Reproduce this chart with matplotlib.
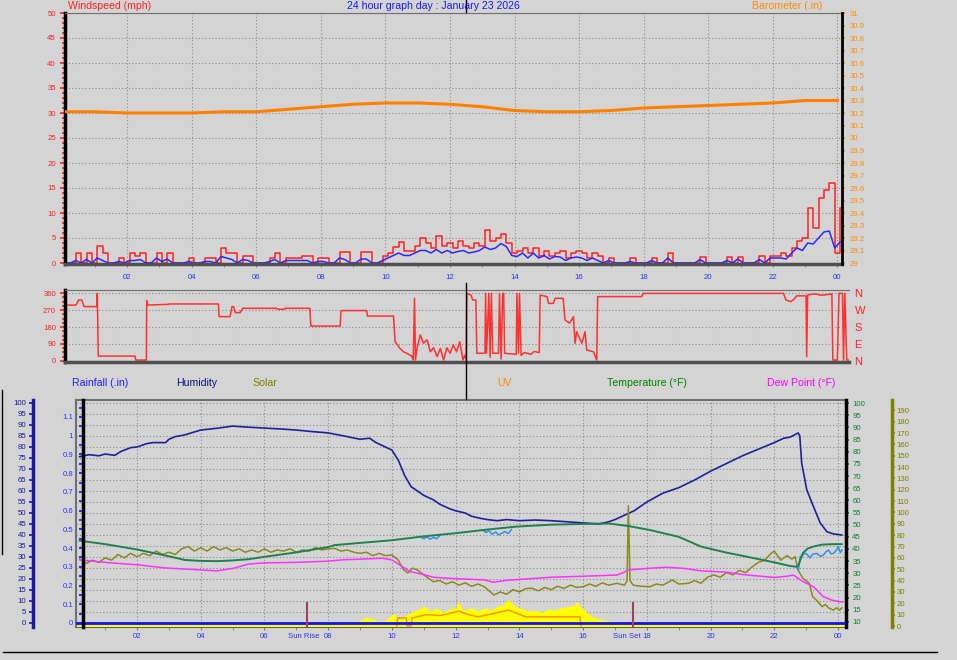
import matplotlib

matplotlib.use("Agg")
import matplotlib.pyplot as plt
import numpy as np
from matplotlib.lines import Line2D
from matplotlib.ticker import FuncFormatter, MultipleLocator

plt.rcParams["font.family"] = ["Liberation Sans", "DejaVu Sans"]

# ---------------------------------------------------------------- data
hour_ticks = [2, 4, 6, 8, 10, 12, 14, 16, 18, 20, 22, 24]
hour_labels = ["02", "04", "06", "08", "10", "12", "14", "16", "18", "20", "22", "00"]

# wind gust / average (mph), one reading every 10 minutes from just after midnight
gust_mph = [
    0, 0, 2, 0, 2, 0,        # 00
    3.5, 2, 0, 0, 1, 0,      # 01
    2, 1.5, 2, 0, 0, 2,      # 02
    0, 2, 0, 0, 0, 1,        # 03
    0, 0, 1, 1, 0, 3,        # 04
    2, 2, 0, 1.5, 1.5, 0,    # 05
    0, 0, 1, 2, 0, 1,        # 06
    1, 1, 1.5, 1.5, 0, 1,    # 07
    1, 0, 0, 2.3, 2.3, 0,    # 08
    0, 2.2, 2.2, 0, 0, 1.5,  # 09
    2, 3.2, 4.3, 2.5, 2.5, 3.5,  # 10
    5, 4, 3, 5.5, 3.5, 4,    # 11
    3, 4.5, 3.5, 3, 4, 3.5,  # 12
    6.7, 4.5, 5, 5.9, 4, 2,  # 13
    2.5, 3, 2, 3, 1.5, 2.5,  # 14
    1.5, 2, 2.5, 1, 2, 2.5,  # 15
    2, 1, 2, 1.5, 0, 1,      # 16
    0, 0, 0, 1, 0, 0,        # 17
    0, 1, 0, 0, 2, 0,        # 18
    0, 0, 0, 0, 1.3, 0,      # 19
    0, 0, 0, 1.2, 0, 1.3,    # 20
    0, 0, 0, 1.5, 0, 1.5,    # 21
    1.5, 2, 1.5, 3, 4.5, 5,  # 22
    11, 7, 13, 14.6, 16, 2,  # 23
    11, 11,
]
avg_mph = [
    0, 0, 0.5, 0, 0.7, 0,
    1, 0.5, 0, 0, 0.3, 0,
    0.5, 0.5, 0.7, 0, 0, 1,
    0.3, 0.8, 0, 0, 0, 0.3,
    0, 0, 0.3, 0.3, 0, 1.3,
    1, 0.7, 0, 0.7, 0.5, 0,
    0, 0, 0.3, 0.7, 0, 0.5,
    0.5, 0.5, 0.5, 0.5, 0, 0.3,
    0.3, 0, 0, 1, 0.7, 0,
    0, 0.8, 0.8, 0, 0, 0.5,
    1, 1.5, 2, 1.5, 1.5, 2,
    2.5, 2.5, 2, 2.7, 2, 2.5,
    2, 2.3, 2.5, 2, 2.2, 2.5,
    3.2, 2.7, 3, 3.9, 3.3, 1.5,
    1.3, 2, 1, 2, 1, 1.5,
    0.8, 1.3, 1.2, 0.5, 1, 1.2,
    1, 0.5, 1, 0.5, 0, 0.5,
    0, 0, 0, 0.3, 0, 0,
    0, 0.5, 0, 0, 1, 0,
    0, 0, 0, 0, 0.7, 0,
    0, 0, 0, 0.5, 0, 0.8,
    0, 0, 0, 0.7, 0, 1,
    1, 1, 0.8, 2, 3, 2.5,
    4, 3.8, 5, 6.2, 6.4, 3,
    4.2, 4.2,
]

baro_hours = list(range(25))
baro_in = [30.21, 30.21, 30.20, 30.20, 30.20, 30.21, 30.21, 30.23, 30.25, 30.27,
           30.28, 30.28, 30.27, 30.25, 30.22, 30.21, 30.21, 30.22, 30.24, 30.25,
           30.26, 30.27, 30.28, 30.30, 30.30]

# wind direction (hour, degrees)
wind_dir = [
    (0.08, 296), (0.42, 296), (0.5, 323), (0.6, 323), (0.67, 288), (1.06, 288),
    (1.08, 358), (1.11, 26), (2.25, 26), (2.27, 5), (2.6, 5), (2.61, 320),
    (2.63, 296), (3.28, 300), (3.3, 302), (4.83, 302), (4.85, 235), (5.19, 235),
    (5.25, 288), (5.3, 288), (5.35, 256), (5.5, 256), (5.58, 279), (6.6, 279),
    (6.7, 274), (6.85, 274), (6.9, 279), (7.66, 279), (7.69, 185), (8.6, 185),
    (8.62, 261), (8.65, 267), (9.42, 267), (9.44, 238), (10.25, 238), (10.3, 102),
    (10.45, 67), (10.56, 49), (10.66, 41), (10.81, 26), (10.86, 5), (10.9, 332),
    (10.93, 5), (10.98, 70), (11.08, 138), (11.18, 94), (11.29, 112), (11.39, 49),
    (11.49, 70), (11.6, 23), (11.7, 67), (11.8, 5), (11.9, 70), (12.0, 41),
    (12.1, 85), (12.2, 49), (12.3, 102), (12.4, 5), (12.45, 30), (12.5, 5),
    (12.52, 358), (12.65, 349), (12.7, 323), (12.8, 323), (12.83, 41), (13.08, 41),
    (13.1, 358), (13.13, 41), (13.2, 358), (13.24, 20), (13.28, 358), (13.32, 41),
    (13.5, 41), (13.53, 358), (13.58, 10), (13.63, 358), (13.66, 358), (13.69, 41),
    (14.05, 35), (14.07, 358), (14.12, 41), (14.15, 358), (14.2, 30), (14.3, 45),
    (14.5, 35), (14.6, 50), (14.76, 45), (14.79, 349), (15.0, 341), (15.05, 305),
    (15.2, 305), (15.25, 332), (15.5, 332), (15.56, 217), (15.7, 200), (15.82, 235),
    (15.87, 94), (15.92, 155), (16.08, 94), (16.18, 155), (16.23, 58), (16.44, 49),
    (16.54, 5), (16.57, 341), (17.93, 341), (17.98, 358), (22.32, 358), (22.4, 323),
    (22.55, 314), (22.65, 327), (22.73, 345), (23.02, 345), (23.04, 23), (23.07, 350),
    (23.3, 355), (23.5, 348), (23.82, 355), (23.85, 5), (23.99, 5), (24.04, 358),
    (24.15, 358), (24.18, 5), (24.22, 358), (24.28, 5), (24.33, 5),
]

# humidity (hour, %)
humidity = [
    (0.2, 75.6), (0.5, 76.5), (0.8, 76.0), (1.0, 76.8), (1.3, 76.2), (1.5, 78.0),
    (1.8, 79.7), (2.0, 80.0), (2.3, 81.5), (2.5, 82.0), (2.9, 82.0), (3.0, 83.5),
    (3.2, 84.7), (3.5, 85.5), (3.7, 86.4), (4.0, 87.7), (4.5, 88.5), (5.0, 89.5),
    (5.5, 89.0), (6.0, 88.6), (6.5, 88.2), (7.0, 87.7), (7.5, 87.0), (8.0, 86.4),
    (8.5, 85.0), (9.0, 83.5), (9.3, 84.0), (9.5, 82.0), (10.0, 78.6), (10.2, 74.0),
    (10.4, 67.0), (10.6, 62.0), (10.8, 60.0), (11.0, 58.0), (11.3, 56.0), (11.5, 54.0),
    (11.8, 52.0), (12.0, 51.0), (12.3, 50.0), (12.5, 48.5), (12.8, 47.5), (13.0, 47.0),
    (13.3, 46.5), (13.6, 47.0), (14.0, 46.5), (14.5, 46.8), (15.0, 46.5), (15.5, 46.0),
    (16.0, 45.5), (16.5, 45.0), (16.8, 46.0), (17.0, 47.0), (17.3, 49.0), (17.6, 51.0),
    (18.0, 55.0), (18.5, 59.0), (19.0, 61.5), (19.5, 65.0), (20.0, 69.0), (20.5, 72.5),
    (21.0, 76.0), (21.5, 79.0), (22.0, 82.0), (22.3, 84.0), (22.5, 84.5), (22.75, 86.4),
    (22.8, 85.0), (22.86, 72.6), (23.02, 60.5), (23.23, 52.9), (23.44, 45.5),
    (23.65, 41.5), (23.85, 40.5), (24.12, 40.0),
]

# temperature (hour, F)
temperature = [
    (0.2, 43.4), (1.0, 42.0), (2.0, 39.8), (3.0, 37.0), (3.5, 35.5), (4.0, 35.1),
    (4.5, 35.0), (5.0, 35.3), (5.5, 35.8), (6.0, 36.8), (7.0, 38.6), (8.0, 40.8),
    (8.2, 41.6), (9.0, 42.5), (10.0, 43.6), (10.25, 44.0), (11.0, 45.2), (12.0, 46.5),
    (13.0, 48.0), (13.9, 49.2), (15.0, 50.0), (16.0, 50.3), (16.8, 50.5), (17.2, 49.8),
    (17.4, 49.5), (17.6, 49.0), (18.1, 47.8), (19.0, 45.0), (19.7, 41.0), (20.5, 38.5),
    (21.0, 37.2), (22.0, 34.5), (22.5, 33.0), (22.7, 32.7), (22.76, 33.5), (22.9, 38.4),
    (23.05, 40.2), (23.23, 41.0), (23.5, 41.8), (23.85, 42.0), (24.12, 42.0),
]

# light blue trace (hour, F), only shows where it leaves the temperature line
chill = [
    (10.9, 45.0), (11.0, 44.2), (11.1, 45.0), (11.2, 44.0), (11.3, 44.8), (11.4, 44.2),
    (11.5, 45.5), (11.55, np.nan),
    (12.85, 47.8), (12.95, 46.8), (13.05, 47.5), (13.15, 46.0), (13.25, 47.0),
    (13.35, 45.8), (13.45, 46.5), (13.55, 47.2), (13.65, 46.3), (13.75, 48.0),
    (13.8, np.nan),
    (22.7, 32.7), (22.76, 31.4), (22.81, 36.8), (22.97, 38.3), (23.05, 37.5),
    (23.12, 36.3), (23.2, 37.8), (23.33, 38.2), (23.45, 37.0), (23.54, 37.5),
    (23.62, 38.8), (23.7, 39.6), (23.78, 38.0), (23.86, 38.2), (23.95, 39.5),
    (24.01, 41.0), (24.07, 38.5), (24.12, 39.6),
]

# dew point (hour, F)
dew_point = [
    (0.2, 35.5), (1.0, 34.5), (2.1, 33.4), (2.9, 32.2), (4.0, 31.4), (4.5, 31.0),
    (5.0, 32.0), (5.5, 33.8), (6.0, 34.3), (7.0, 34.5), (8.0, 35.0), (8.5, 35.6),
    (9.0, 35.8), (9.7, 36.2), (10.0, 35.5), (10.3, 33.0), (10.57, 30.7), (11.0, 29.5),
    (11.3, 28.4), (12.0, 27.8), (12.9, 27.3), (13.2, 26.3), (13.5, 27.0), (14.0, 27.5),
    (15.0, 28.4), (16.0, 28.8), (17.06, 29.3), (17.3, 30.5), (17.4, 31.4), (18.0, 32.0),
    (18.6, 32.5), (19.2, 32.0), (19.7, 31.0), (20.5, 30.5), (21.0, 29.5), (22.0, 28.3),
    (22.4, 28.8), (22.6, 29.3), (22.9, 26.6), (23.23, 24.5), (23.54, 20.4), (23.8, 19.0),
    (24.06, 18.3), (24.15, 18.3),
]

# olive "solar" trace (hour, solar-axis units)
solar_trace = [
    (0.2, 59), (0.4, 55), (0.6, 58), (0.8, 56), (1.0, 60), (1.2, 58), (1.4, 63),
    (1.6, 60), (1.8, 64), (2.0, 61), (2.2, 64), (2.4, 62), (2.6, 66), (2.8, 63),
    (3.0, 65), (3.2, 63), (3.4, 68), (3.6, 70), (3.8, 66), (4.0, 69), (4.2, 66),
    (4.4, 70), (4.6, 67), (4.8, 69), (5.0, 66), (5.2, 68), (5.4, 65), (5.6, 67),
    (5.8, 65), (6.0, 68), (6.2, 65), (6.4, 67), (6.6, 66), (6.8, 68), (7.0, 65),
    (7.2, 67), (7.4, 66), (7.6, 69), (7.8, 67), (8.0, 68), (8.2, 68.4), (8.4, 66),
    (8.6, 67), (8.8, 65), (9.0, 64), (9.2, 65), (9.4, 62), (9.6, 64), (9.8, 62),
    (10.0, 62.6), (10.2, 58), (10.35, 50), (10.5, 46.7), (10.65, 51), (10.8, 49.3),
    (11.0, 45), (11.15, 42), (11.3, 39), (11.5, 40), (11.7, 37), (11.9, 39),
    (12.1, 36), (12.3, 38), (12.5, 35), (12.7, 37), (12.9, 34.6), (13.05, 31),
    (13.2, 27.3), (13.4, 30), (13.6, 28), (13.8, 32), (14.0, 30), (14.2, 33),
    (14.4, 33.2), (14.6, 31), (14.8, 34), (15.0, 32), (15.2, 35), (15.4, 33),
    (15.6, 36), (15.8, 34), (16.0, 34.6), (16.2, 37), (16.4, 35), (16.6, 38),
    (16.8, 36), (17.06, 37.6), (17.3, 36), (17.38, 40), (17.42, 106), (17.47, 40),
    (17.57, 36), (17.8, 35), (18.1, 34.6), (18.3, 37), (18.5, 36), (18.8, 40.5),
    (19.0, 37), (19.3, 37.6), (19.5, 40), (19.7, 37.6), (19.9, 43), (20.1, 45),
    (20.3, 43), (20.5, 47), (20.7, 45), (20.9, 49), (21.1, 47), (21.3, 52),
    (21.5, 56), (21.7, 58), (21.9, 64), (22.0, 66), (22.2, 58), (22.4, 62),
    (22.55, 59), (22.65, 61), (22.75, 49), (22.9, 42), (23.1, 37.6), (23.2, 26),
    (23.35, 22), (23.5, 17), (23.6, 19), (23.7, 16), (23.85, 14), (23.95, 16),
    (24.05, 14), (24.12, 16),
]

# solar radiation, yellow area (hour, solar-axis units)
solar_fill = [
    (8.3, 0), (8.5, 2), (8.8, 3), (9.0, 5), (9.2, 8), (9.4, 6), (9.6, 4), (9.8, 5),
    (10.05, 11), (10.2, 6), (10.4, 9), (10.6, 12), (10.8, 14), (11.0, 17.6), (11.2, 13),
    (11.4, 16), (11.6, 12), (11.8, 15), (12.0, 16), (12.08, 21.4), (12.2, 15),
    (12.3, 14), (12.5, 16), (12.7, 13), (12.9, 16), (13.1, 14), (13.3, 17), (13.5, 19),
    (13.65, 23.5), (13.8, 19), (13.9, 16.7), (14.1, 15), (14.3, 13), (14.5, 14),
    (14.7, 12), (14.9, 15), (15.1, 14), (15.3, 16), (15.5, 17), (15.7, 18), (15.8, 21.4),
    (15.9, 17), (16.0, 15), (16.15, 11), (16.3, 8), (16.5, 6), (16.7, 5), (16.9, 4),
    (17.1, 3.5), (17.3, 2), (17.5, 0),
]

# UV index (hour, index)
uv_index = [
    (10.15, 0), (10.18, 0.35), (10.45, 0.35), (10.48, 0), (10.6, 0), (10.63, 0.35),
    (11.1, 0.5), (11.5, 0.45), (12.1, 0.65), (12.4, 0.5), (12.7, 0.4), (13.2, 0.55),
    (13.65, 0.7), (14.2, 0.4), (15.0, 0.4), (15.9, 0.4), (15.93, 0),
]

rain_hours = [0.1, 24.2]
rain_in = [0.0, 0.0]

sunrise, sunset = 7.33, 17.56

# ---------------------------------------------------------------- style
BG = "#d4d4d4"
GRID = dict(color="#8a8a8a", linestyle=(0, (1, 2)), linewidth=0.8)
HOUR_BLUE = "#3333ee"
TICK_FS = 5.6
W, H = 957, 660

fig = plt.figure(figsize=(W / 100, H / 100), dpi=100, facecolor=BG)


def px_axes(left, top, right, bottom):
    return fig.add_axes([left / W, 1 - bottom / H, (right - left) / W, (bottom - top) / H])


def ftext(x, y, s, **kw):
    kw.setdefault("fontsize", 7.6)
    fig.text(x / W, 1 - y / H, s, va="center", **kw)


def short_num(v, _pos=None):
    s = f"{v:.1f}"
    return s[:-2] if s.endswith(".0") else s


def only_spines(ax, keep):
    for name, sp in ax.spines.items():
        sp.set_visible(name in keep)


# ---------------------------------------------------------- wind + baro
ax1 = px_axes(65, 13, 842, 264)
ax1.set_facecolor(BG)
wind_hours = 0.08 + np.arange(len(gust_mph)) / 6
ax1.step(wind_hours, gust_mph, where="post", color="#ff2020", lw=1.1)
ax1.plot(wind_hours, avg_mph, color="#2828ff", lw=1.1)
ax1.set_xlim(0.08, 24.14)
ax1.set_ylim(-0.2, 50)
ax1.set_xticks(hour_ticks, hour_labels)
ax1.xaxis.set_minor_locator(MultipleLocator(1))
ax1.yaxis.set_major_locator(MultipleLocator(5))
ax1.yaxis.set_minor_locator(MultipleLocator(1))
ax1.tick_params(axis="x", which="both", colors="#777777", labelcolor=HOUR_BLUE,
                labelsize=TICK_FS, length=2.5, pad=5)
ax1.tick_params(axis="y", which="both", colors="#ff2020", labelsize=TICK_FS,
                length=2, width=1.2, pad=3)
ax1.tick_params(axis="y", which="major", length=3.5)
ax1.grid(True, which="major", **GRID)
only_spines(ax1, ["left", "bottom", "top"])
ax1.spines["left"].set_color("black")
ax1.spines["left"].set_linewidth(2.5)
ax1.spines["bottom"].set_color("#505050")
ax1.spines["bottom"].set_linewidth(2.5)
ax1.spines["top"].set_color("#707070")

ax1b = ax1.twinx()
ax1b.plot(baro_hours, baro_in, color="#ff8000", lw=2.2)
ax1b.set_ylim(28.992, 31.0)
ax1b.yaxis.set_major_locator(MultipleLocator(0.1))
ax1b.yaxis.set_major_formatter(FuncFormatter(short_num))
ax1b.tick_params(axis="y", colors="#ff8c00", labelsize=TICK_FS, length=2.5, width=1.2, pad=3)
only_spines(ax1b, ["right"])
ax1b.spines["right"].set_color("black")
ax1b.spines["right"].set_linewidth(2)

# ------------------------------------------------------- wind direction
ax2 = px_axes(65, 290, 849, 362)
ax2.set_facecolor(BG)
wd = np.array(wind_dir)
ax2.plot(wd[:, 0], wd[:, 1], color="#ff3030", lw=1.1)
ax2.set_xlim(0.08, 24.35)
ax2.set_ylim(-5.3, 375.9)
ax2.set_xticks([])
ax2.set_yticks([0, 90, 180, 270, 360])
ax2.yaxis.set_minor_locator(MultipleLocator(22.5))
ax2.tick_params(axis="y", which="both", colors="#ff2020", labelsize=TICK_FS,
                length=2, width=1.2, pad=3)
ax2.tick_params(axis="y", which="major", length=3.5)
ax2.grid(True, axis="y", which="major", **GRID)
only_spines(ax2, ["left", "bottom", "top"])
ax2.spines["left"].set_color("black")
ax2.spines["left"].set_linewidth(2.5)
ax2.spines["bottom"].set_color("#505050")
ax2.spines["bottom"].set_linewidth(2.5)
ax2.spines["top"].set_color("#707070")

ax2b = ax2.twinx()
ax2b.set_ylim(ax2.get_ylim())
ax2b.set_yticks([0, 90, 180, 270, 360], ["N", "E", "S", "W", "N"])
ax2b.tick_params(axis="y", length=0, labelcolor="#ff2020", labelsize=8, pad=4)
only_spines(ax2b, [])

# ------------------------------------------------------- bottom panel
ax3 = px_axes(76, 400, 846, 627)  # humidity is the base axis (grid lives here)
ax3.set_facecolor(BG)
hu = np.array(humidity)
ax3.plot(hu[:, 0], hu[:, 1], color="#20209a", lw=1.2)
ax3.set_xlim(0.085, 24.25)
ax3.set_ylim(-1.82, 101.36)
ax3.set_xticks(hour_ticks, hour_labels)
ax3.xaxis.set_minor_locator(MultipleLocator(1))
ax3.yaxis.set_major_locator(MultipleLocator(5))
ax3.tick_params(axis="x", which="both", colors="#777777", labelcolor=HOUR_BLUE,
                labelsize=TICK_FS, length=2.5, pad=2)
ax3.tick_params(axis="y", colors="#1818a0", labelsize=TICK_FS, length=3, width=1.2, pad=2)
ax3.grid(True, which="major", **GRID)
only_spines(ax3, ["left", "bottom", "top"])
ax3.spines["left"].set_position(("outward", 31))
ax3.spines["left"].set_color("#1818a0")
ax3.spines["left"].set_linewidth(2.5)
ax3.spines["bottom"].set_color("#606060")
ax3.spines["bottom"].set_linewidth(1.5)
ax3.spines["top"].set_color("#707070")
ax3.spines["top"].set_linewidth(1.5)

# solar axis, far right
ax_sol = ax3.twinx()
sf = np.array(solar_fill)
ax_sol.fill_between(sf[:, 0], sf[:, 1], color="#ffff00", lw=0)
ax_sol.axhline(0, color="#ffff00", lw=2)
st = np.array(solar_trace)
ax_sol.plot(st[:, 0], st[:, 1], color="#8a8a20", lw=1.1)
ax_sol.set_ylim(-0.88, 199.1)
ax_sol.yaxis.set_major_locator(MultipleLocator(10))
ax_sol.tick_params(axis="y", colors="#808000", labelsize=TICK_FS, length=2, width=1.2, pad=1.5)
only_spines(ax_sol, ["right"])
ax_sol.spines["right"].set_position(("outward", 33))
ax_sol.spines["right"].set_color("#808000")
ax_sol.spines["right"].set_linewidth(2.5)

# UV, own hidden scale
ax_uv = ax3.twinx()
uv = np.array(uv_index)
ax_uv.plot(uv[:, 0], uv[:, 1], color="#ff9000", lw=1.1)
ax_uv.set_ylim(-0.05, 10)
ax_uv.set_yticks([])
only_spines(ax_uv, ["left"])
ax_uv.spines["left"].set_color("#707070")
ax_uv.spines["left"].set_linewidth(1.5)

# temperature / dew point, right axis
ax_t = ax3.twinx()
dp = np.array(dew_point)
ax_t.plot(dp[:, 0], dp[:, 1], color="#ff30ff", lw=1.1)
ch = np.array(chill)
ax_t.plot(ch[:, 0], ch[:, 1], color="#3090e8", lw=1.1)
te = np.array(temperature)
ax_t.plot(te[:, 0], te[:, 1], color="#208050", lw=1.4)
ax_t.set_ylim(7.94, 101.24)
ax_t.set_yticks(np.arange(10, 101, 5))
ax_t.tick_params(axis="y", colors="#108030", labelsize=TICK_FS, length=2.5, width=1.2, pad=2)
only_spines(ax_t, ["right"])
ax_t.spines["right"].set_color("black")
ax_t.spines["right"].set_linewidth(2.5)

# rainfall, inner left axis
ax_r = ax3.twinx()
ax_r.plot(rain_hours, rain_in, color="#1010ff", lw=2)
ax_r.set_ylim(-0.0214, 1.1906)
ax_r.yaxis.tick_left()
ax_r.yaxis.set_major_locator(MultipleLocator(0.1))
ax_r.yaxis.set_minor_locator(MultipleLocator(0.05))
ax_r.yaxis.set_major_formatter(FuncFormatter(short_num))
ax_r.tick_params(axis="y", which="both", colors="#3030ff", labelsize=TICK_FS,
                 length=3, width=1.5, pad=4)
only_spines(ax_r, ["left"])
ax_r.spines["left"].set_position(("outward", -5))
ax_r.spines["left"].set_color("black")
ax_r.spines["left"].set_linewidth(2.5)

# sunrise / sunset markers, label ends just before the next hour label
for t, name, dx in [(sunrise, "Sun Rise", 9), (sunset, "Sun Set", 5.5)]:
    ax_r.axvline(t, ymin=0, ymax=0.106, color="#a04060", lw=1.5)
    ax_r.annotate(name, (t, -0.044), xycoords=ax_r.get_xaxis_transform(),
                  xytext=(dx, 0), textcoords="offset points", ha="right",
                  va="center", color=HOUR_BLUE, fontsize=TICK_FS)

# ---------------------------------------------------------- labels
ftext(68, 6, "Windspeed (mph)", color="#ff2020")
ftext(433, 6, "24 hour graph day : January 23 2026", color="#1818ff", ha="center")
ftext(787, 6, "Barometer (.in)", color="#ff8c00", ha="center")

ftext(72, 383, "Rainfall (.in)", color="#2020ff")
ftext(176, 383, "Humidity", color="#101080")
ftext(252, 383, "Solar", color="#808000")
ftext(497, 383, "UV", color="#ff8c00")
ftext(607, 383, "Temperature (°F)", color="#008000")
ftext(767, 383, "Dew Point (°F)", color="#ff00ff")

# stray separator lines from the original screen grab
for xs, ys in [([466, 466], [283, 399]), ([466, 466], [0, 12]),
               ([1.5, 1.5], [390, 554]), ([3, 937], [652, 652])]:
    fig.add_artist(Line2D([x / W for x in xs], [1 - y / H for y in ys],
                          color="black", lw=1))

fig.savefig("out.png", dpi=100, facecolor=BG)
